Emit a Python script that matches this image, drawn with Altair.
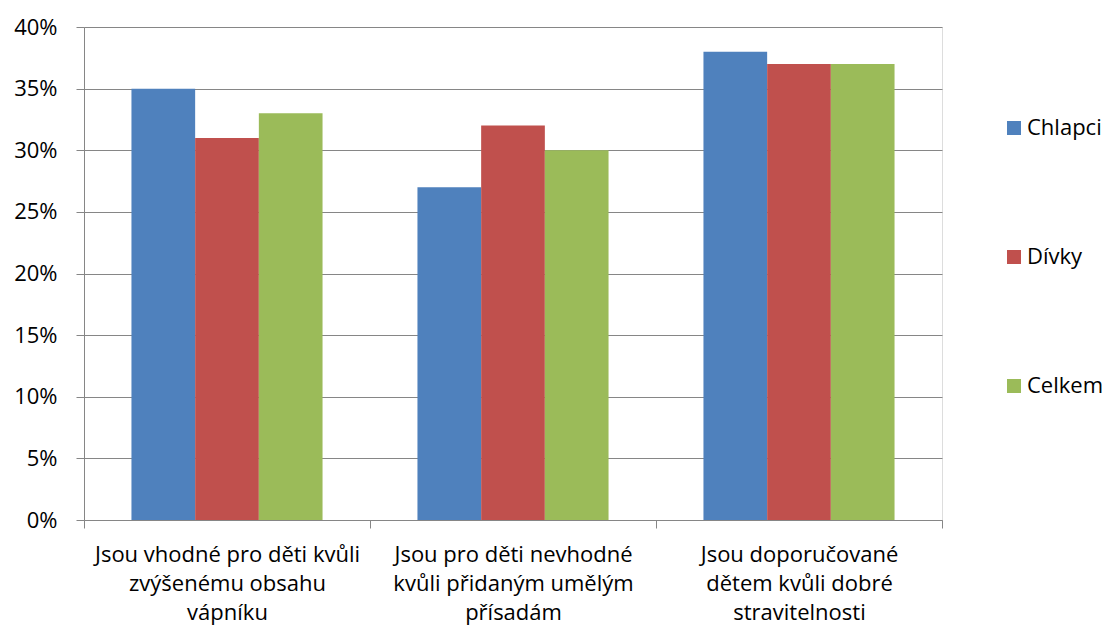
import altair as alt
import pandas as pd

# Survey categories (line breaks mark where each axis label wraps)
categories = [
    "Jsou vhodné pro děti kvůli\nzvýšenému obsahu\nvápníku",
    "Jsou pro děti nevhodné\nkvůli přidaným umělým\npřísadám",
    "Jsou doporučované\ndětem kvůli dobré\nstravitelnosti",
]
series = ["Chlapci", "Dívky", "Celkem"]
colors = ["#4F81BD", "#C0504D", "#9BBB59"]

chlapci = [0.35, 0.27, 0.38]
divky = [0.31, 0.32, 0.37]
celkem = [0.33, 0.30, 0.37]

y_ticks = [0, 0.05, 0.10, 0.15, 0.20, 0.25, 0.30, 0.35, 0.40]

rows = []
for name, vals in zip(series, [chlapci, divky, celkem]):
    for cat, v in zip(categories, vals):
        rows.append({"kategorie": cat, "skupina": name, "podil": v})
df = pd.DataFrame(rows)

FONT = "Open Sans"
FS = 22
GRID = "#868686"

chart = (
    alt.Chart(df)
    .mark_bar()
    .encode(
        x=alt.X(
            "kategorie:N",
            sort=categories,
            title=None,
            scale=alt.Scale(paddingInner=0, paddingOuter=0),
            axis=alt.Axis(
                labelAngle=0,
                labelExpr="split(datum.label, '\\n')",
                labelAlign="center",
                labelBaseline="top",
                labelLineHeight=29,
                labelPadding=16,
                labelFontSize=FS,
                labelFont=FONT,
                labelColor="#000000",
                tickBand="extent",
                tickSize=8,
                tickColor=GRID,
                domainColor=GRID,
                grid=False,
                labelLimit=400,
            ),
        ),
        xOffset=alt.XOffset(
            "skupina:N",
            sort=series,
            scale=alt.Scale(paddingOuter=0.745, paddingInner=0),
        ),
        y=alt.Y(
            "podil:Q",
            title=None,
            scale=alt.Scale(domain=[0, 0.4], nice=False),
            axis=alt.Axis(
                values=y_ticks,
                format=".0%",
                labelFontSize=FS,
                labelFont=FONT,
                labelColor="#000000",
                labelPadding=19,
                tickSize=8,
                tickColor=GRID,
                domainColor=GRID,
                grid=True,
                gridColor=GRID,
                gridOpacity=1,
            ),
        ),
        color=alt.Color(
            "skupina:N",
            sort=series,
            scale=alt.Scale(domain=series, range=colors),
            legend=alt.Legend(
                title=None,
                orient="none",
                legendX=919,
                legendY=90,
                symbolType="square",
                symbolSize=196,
                symbolStrokeWidth=0,
                symbolOpacity=1,
                labelFontSize=FS,
                labelFont=FONT,
                labelColor="#000000",
                labelOffset=2,
                rowPadding=107,
                padding=0,
            ),
        ),
    )
    .properties(
        width=858,
        height=493,
        autosize=alt.AutoSizeParams(type="none"),
        padding={"left": 84, "top": 27, "right": 164, "bottom": 110},
    )
    .configure_view(stroke=None)
    .configure(background="white")
)

chart.save("out.html", embed_options={"renderer": "svg", "actions": False})
